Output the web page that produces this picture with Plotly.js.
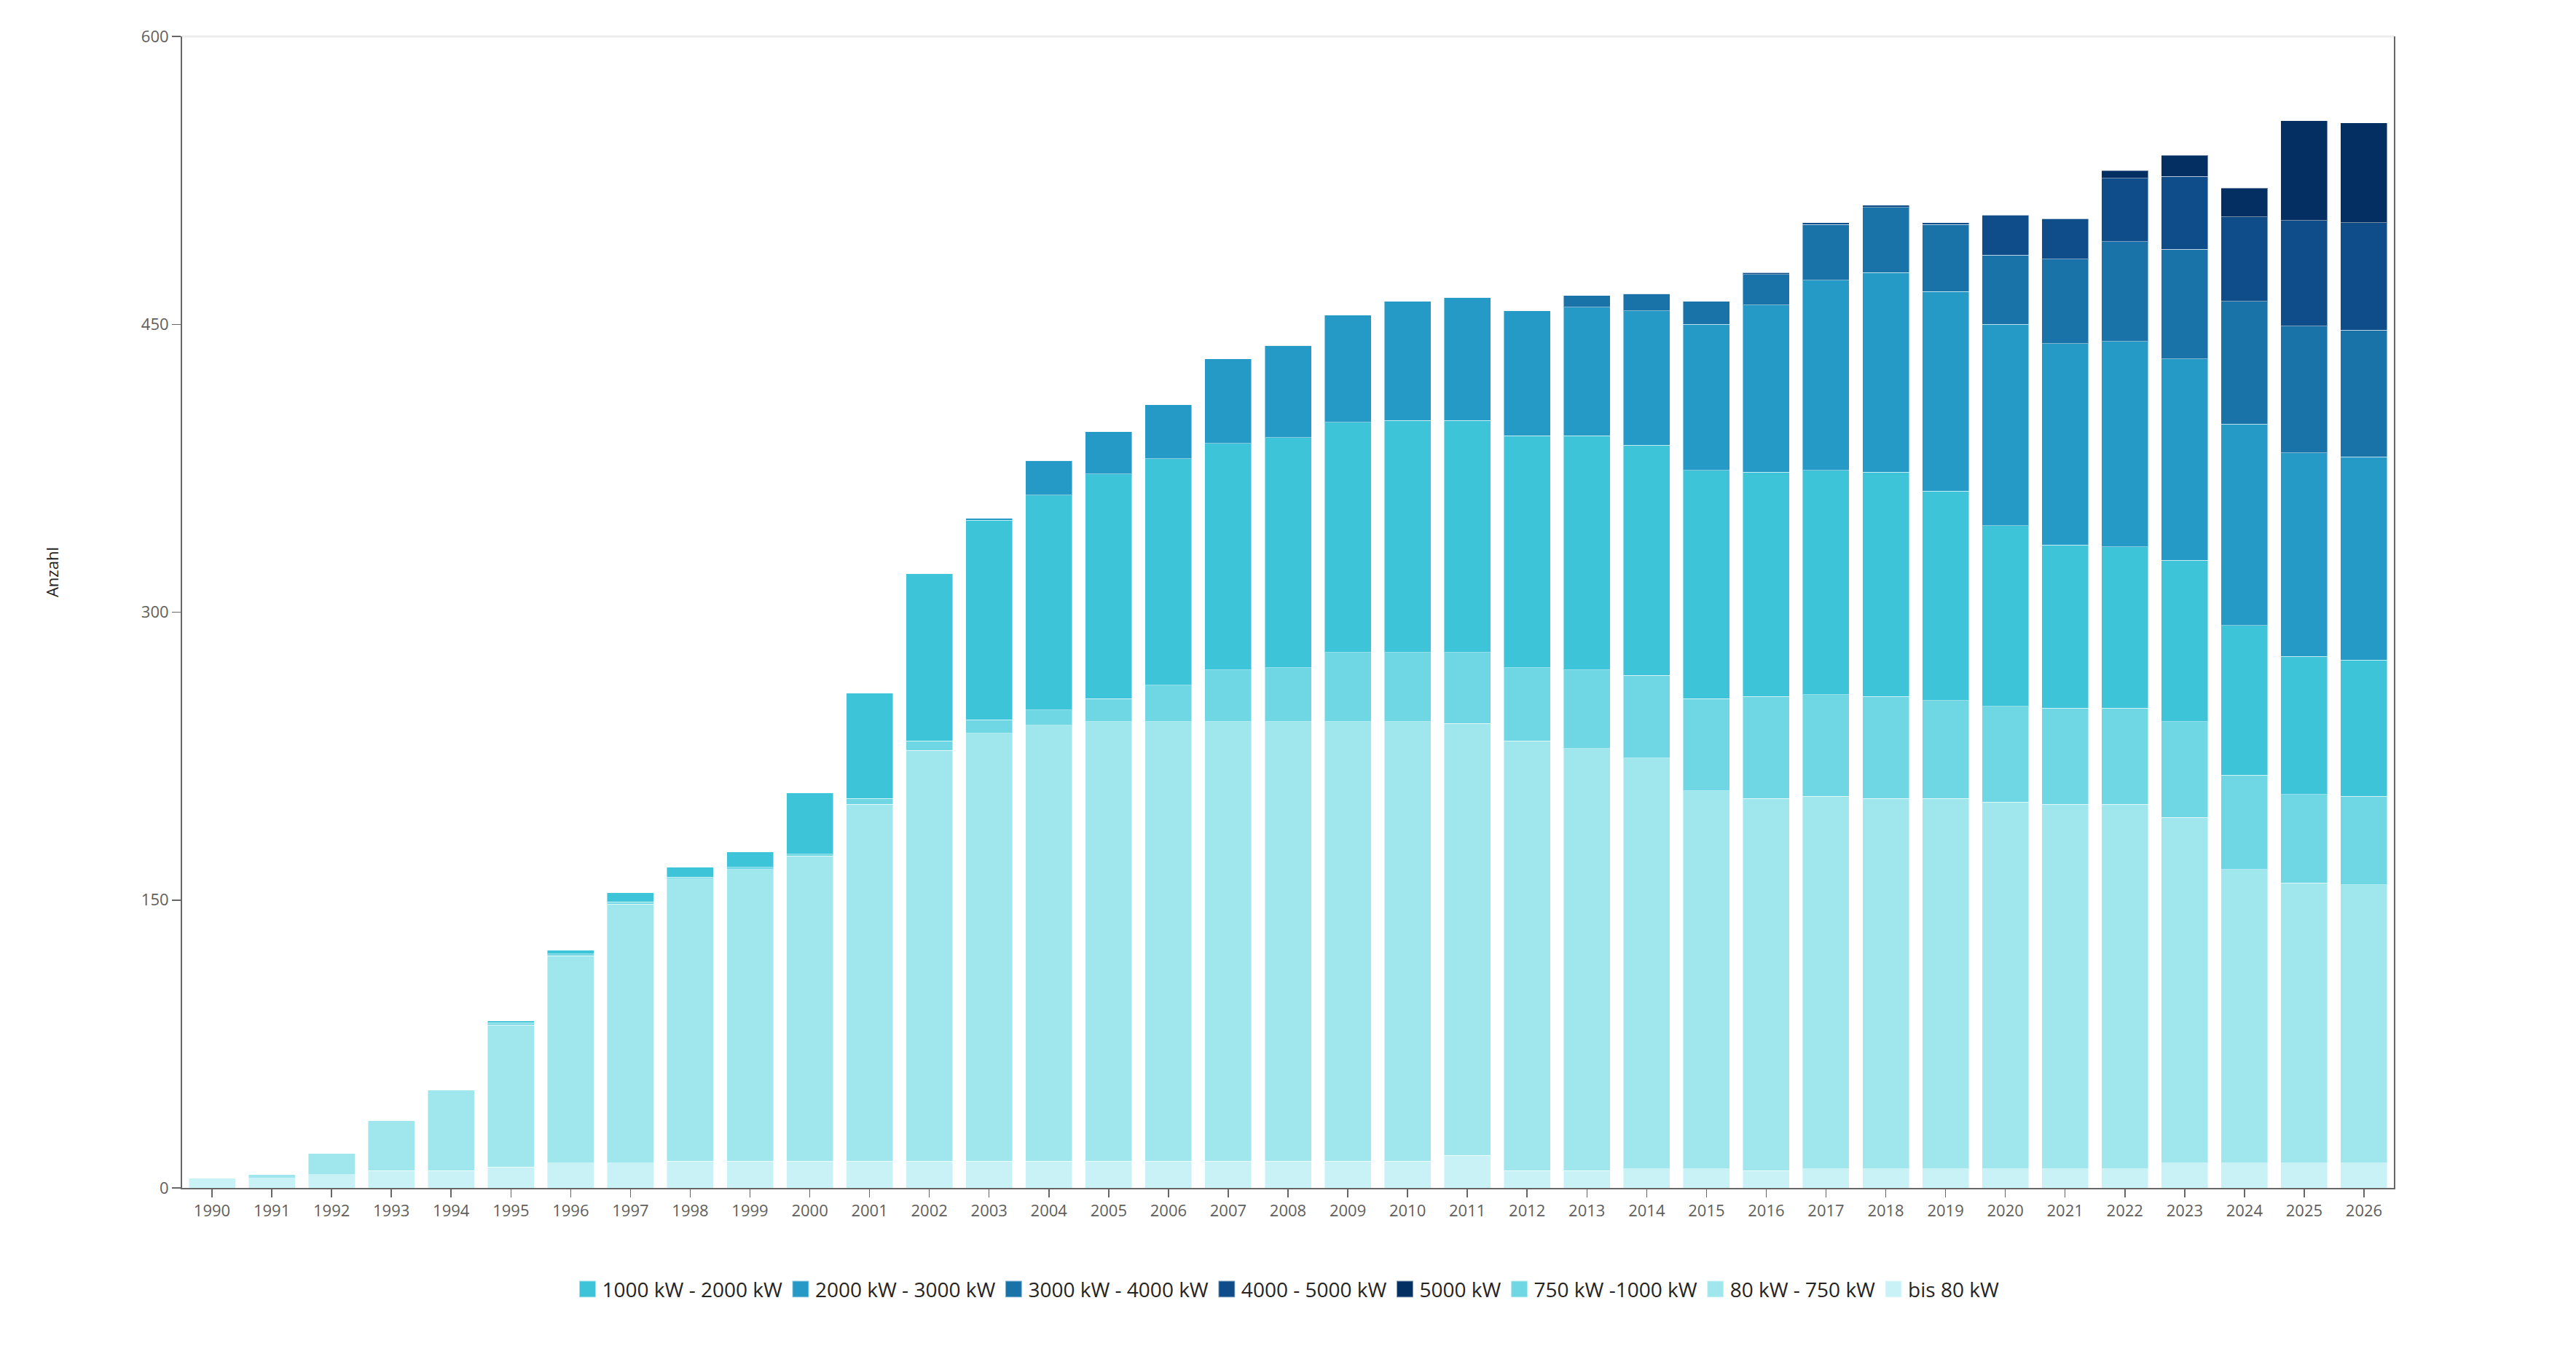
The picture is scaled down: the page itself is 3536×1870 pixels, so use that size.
<!DOCTYPE html>
<html>
<head>
<meta charset="utf-8">
<script src="https://cdn.plot.ly/plotly-3.0.1.min.js"></script>
<style>
  html, body { margin: 0; padding: 0; background: #fff; }
  #chart { width: 3536px; height: 1870px; }
</style>
</head>
<body>
<div id="chart"></div>
<script>
// years on the x axis
var years = ['1990','1991','1992','1993','1994','1995','1996','1997','1998','1999',
             '2000','2001','2002','2003','2004','2005','2006','2007','2008','2009',
             '2010','2011','2012','2013','2014','2015','2016','2017','2018','2019',
             '2020','2021','2022','2023','2024','2025','2026'];

// counts per size class (bottom of the stack first)
var bis80    = [5,5,7,9,9,11,13,13,14,14, 14,14,14,14,14,14,14,14,14,14, 14,17,9,9,10,10,9,10,10,10, 10,10,10,13,13,13,13];
var kw80_750 = [0,2,11,26,42,74,108,135,147,152, 159,186,214,223,227,229,229,229,229,229, 229,225,224,220,214,197,194,194,193,193, 191,190,190,180,153,146,145];
var kw750_1000 = [0,0,0,0,0,1,1,1,1,1, 1,3,5,7,8,12,19,27,28,36, 36,37,38,41,43,48,53,53,53,51, 50,50,50,50,49,46,46];
var kw1000_2000 = [0,0,0,0,0,1,2,5,5,8, 32,55,87,104,112,117,118,118,120,120, 121,121,121,122,120,119,117,117,117,109, 94,85,84,84,78,72,71];
var kw2000_3000 = [0,0,0,0,0,0,0,0,0,0, 0,0,0,1,18,22,28,44,48,56, 62,64,65,67,70,76,87,99,104,104, 105,105,107,105,105,106,106];
var kw3000_4000 = [0,0,0,0,0,0,0,0,0,0, 0,0,0,0,0,0,0,0,0,0, 0,0,0,6,9,12,16,29,34,35, 36,44,52,57,64,66,66];
var kw4000_5000 = [0,0,0,0,0,0,0,0,0,0, 0,0,0,0,0,0,0,0,0,0, 0,0,0,0,0,0,1,1,1,1, 21,21,33,38,44,55,56];
var kw5000   = [0,0,0,0,0,0,0,0,0,0, 0,0,0,0,0,0,0,0,0,0, 0,0,0,0,0,0,0,0,0,0, 0,0,4,11,15,52,52];

var seriesNames = ['bis 80 kW','80 kW - 750 kW','750 kW -1000 kW','1000 kW - 2000 kW',
                   '2000 kW - 3000 kW','3000 kW - 4000 kW','4000 - 5000 kW','5000 kW'];
var seriesValues = [bis80, kw80_750, kw750_1000, kw1000_2000, kw2000_3000, kw3000_4000, kw4000_5000, kw5000];
var seriesColors = ['#C8F2F6','#9FE6ED','#6FD7E3','#3DC4D8','#259AC6','#1A73A8','#0F4D8A','#032F62'];
// legend order in the picture: 1000-2000 first, bis 80 last
var legendRanks = [8,7,6,1,2,3,4,5];

var data = [];
for (let i = 0; i < seriesNames.length; i++) {
    data.push({
        type: 'bar',
        name: seriesNames[i],
        x: years,
        y: seriesValues[i],
        legendrank: legendRanks[i],
        marker: {
            color: seriesColors[i],
            line: {width: 1, color: 'rgba(255,255,255,0.45)'}
        },
        hoverinfo: 'x+y+name'
    });
}

var tickFont = {family: 'Open Sans, sans-serif', size: 22, color: '#605E5C'};

var layout = {
    width: 3536,
    height: 1870,
    barmode: 'stack',
    bargap: 0.22,
    paper_bgcolor: '#ffffff',
    plot_bgcolor: '#ffffff',
    margin: {l: 250, r: 250, t: 50, b: 239},
    font: {family: 'Open Sans, sans-serif', color: '#252423'},
    xaxis: {
        type: 'category',
        showline: true,
        linecolor: '#666666',
        linewidth: 2,
        ticks: 'outside',
        ticklen: 11,
        tickcolor: '#666666',
        tickwidth: 1.5,
        tickfont: tickFont,
        showgrid: false,
        automargin: false
    },
    yaxis: {
        range: [0, 600],
        tickvals: [0, 150, 300, 450, 600],
        ticks: 'outside',
        ticklen: 12,
        tickcolor: '#666666',
        tickwidth: 1.5,
        tickfont: tickFont,
        showline: true,
        mirror: true,
        linecolor: '#666666',
        linewidth: 2,
        showgrid: false,
        zeroline: false,
        automargin: false
    },
    // y title sits a little above the middle in the picture
    annotations: [{
        text: 'Anzahl',
        xref: 'paper', yref: 'paper',
        x: -0.059, y: 0.535,
        xanchor: 'center', yanchor: 'middle',
        textangle: -90,
        showarrow: false,
        font: {family: 'Open Sans, sans-serif', size: 22, color: '#252423'}
    }],
    // faint line along the top of the plot
    shapes: [{
        type: 'line', xref: 'paper', yref: 'paper',
        x0: 0, x1: 1, y0: 1, y1: 1,
        line: {color: '#EDEDED', width: 3}
    }],
    legend: {
        orientation: 'h',
        x: 0.5, xanchor: 'center',
        y: -0.088, yanchor: 'middle',
        traceorder: 'normal',
        font: {family: 'Open Sans, sans-serif', size: 28, color: '#252423'},
        itemwidth: 30
    },
    showlegend: true
};

Plotly.newPlot('chart', data, layout, {displayModeBar: false, staticPlot: true}).then(function(gd) {
    // legend swatches are bigger in the picture than plotly's default
    gd.querySelectorAll('.legend .legendpoints path').forEach(function(p) {
        p.setAttribute('transform', 'translate(20,0) scale(1.9)');
    });
});
</script>
</body>
</html>
